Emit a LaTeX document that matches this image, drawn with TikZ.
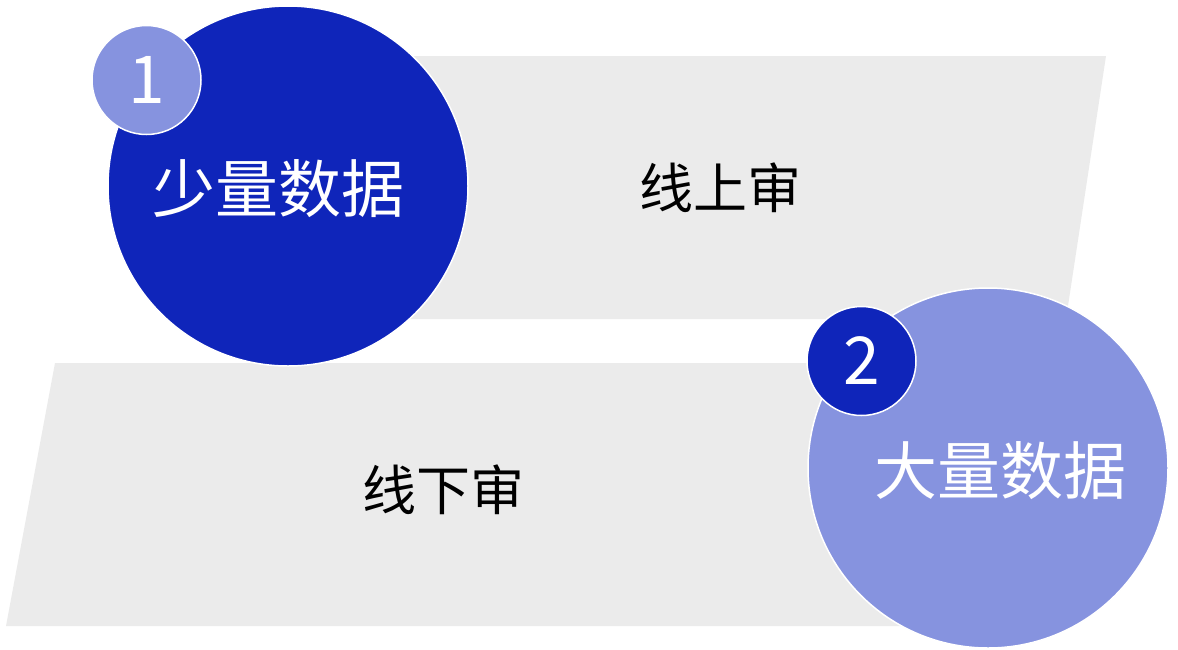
\documentclass[tikz,border=0pt]{standalone}
\usepackage{fontspec}
\setmainfont{Noto Sans CJK SC}
\newfontfamily\cjk{Noto Sans CJK SC}
\definecolor{darkblue}{HTML}{0F25BA}
\definecolor{lightblue}{HTML}{8693DF}
\definecolor{panelgray}{HTML}{EBEBEB}
\begin{document}
\begin{tikzpicture}[x=1pt,y=-1pt,
  panel/.style={fill=panelgray,draw=none},
  bigcirc/.style={circle,draw=white,line width=1.5pt,minimum size=360pt,inner sep=0pt},
  smallcirc/.style={circle,draw=white,line width=1.5pt,minimum size=109pt,inner sep=0pt},
  bigtext/.style={text=white,font=\cjk\fontsize{63}{63}\selectfont},
  numtext/.style={text=white,font=\cjk\fontsize{66}{66}\selectfont},
  paneltext/.style={text=black,font=\cjk\fontsize{54}{54}\selectfont}]
\useasboundingbox (0,0) rectangle (1178,649);
% panels
\fill[panel] (300,56) -- (1106,56) -- (1066,319) -- (260,319) -- cycle;
\fill[panel] (55,363) -- (955,363) -- (915,626) -- (6,626) -- cycle;
\node[paneltext] (t1) at (720,188) {线上审};
\node[paneltext] (t2) at (443,490) {线下审};
% circle 1
\node[bigcirc,fill=darkblue] (c1) at (288,186) {};
\node[bigtext] (l1) at (278,189) {少量数据};
\node[smallcirc,fill=lightblue] (n1) at (146.5,80) {};
\node[numtext] (d1) at (n1.center) {1};
% circle 2
\node[bigcirc,fill=lightblue] (c2) at (988,468) {};
\node[bigtext] (l2) at (1000,471) {大量数据};
\node[smallcirc,fill=darkblue] (n2) at (861.5,361) {};
\node[numtext] (d2) at (n2.center) {2};
\end{tikzpicture}
\end{document}
